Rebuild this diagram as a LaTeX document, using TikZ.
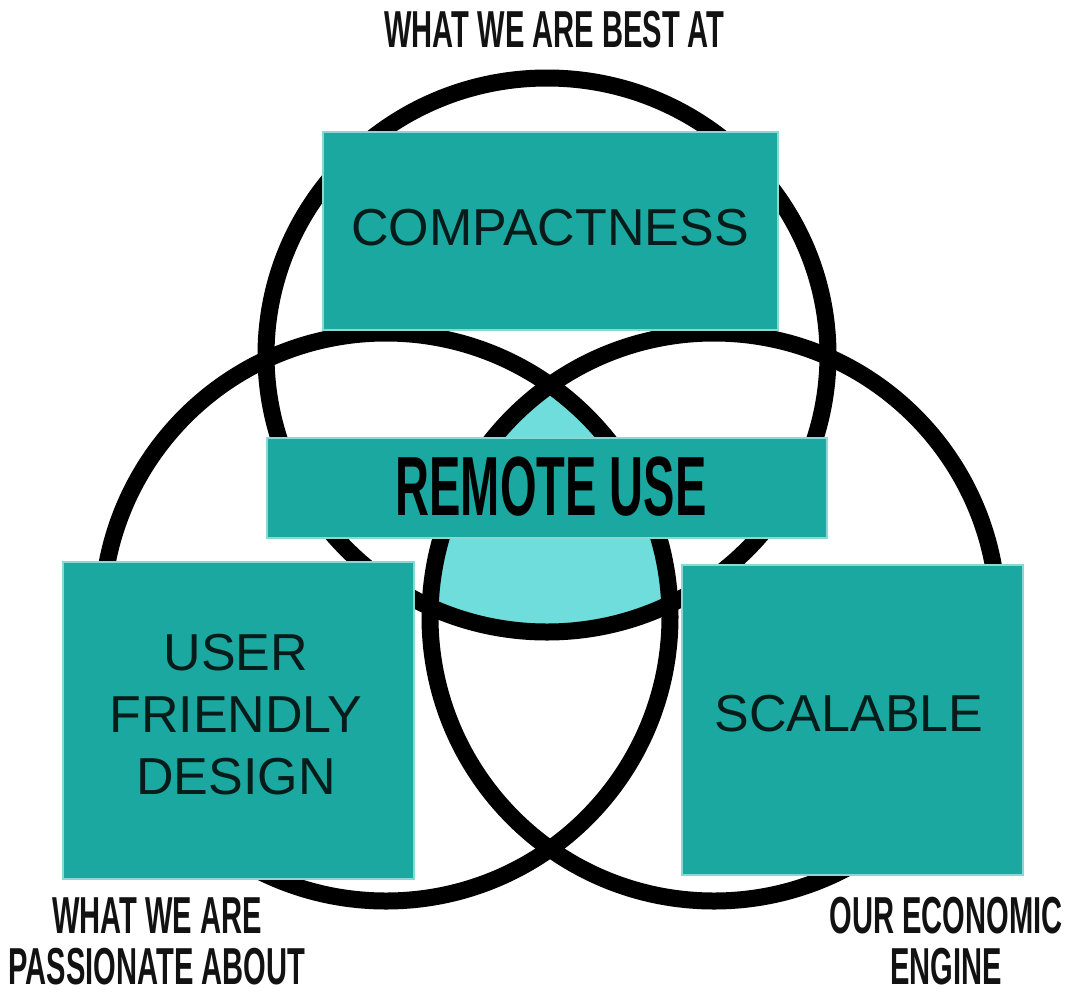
\documentclass[tikz,border=0pt]{standalone}
\usepackage{fontspec}
\setmainfont{Liberation Sans}
\newfontfamily\headfont[FakeStretch=0.56]{Liberation Sans}
\definecolor{boxteal}{HTML}{1BA8A0}
\definecolor{coreteal}{HTML}{6FDDDB}
\definecolor{boxedge}{HTML}{8AD8D4}
\definecolor{ink}{HTML}{061C1B}
\definecolor{headink}{HTML}{121212}

\begin{document}
\begin{tikzpicture}[x=1pt,y=-1pt,
  ring/.style={draw=black,line width=17pt},
  tealbox/.style={fill=boxteal,draw=boxedge,line width=1.5pt,inner sep=0pt},
  boxtext/.style={inner sep=0pt,text=ink,align=center,
    font=\fontsize{52}{62}\selectfont},
  headlabel/.style={inner sep=0pt,text=headink,
    font=\headfont\bfseries\fontsize{52}{51}\selectfont}]
\useasboundingbox (0,0) rectangle (1071,991);
\fill[white] (0,0) rectangle (1071,991);

% ring centres
\coordinate (ctop) at (547,355);
\coordinate (cleft) at (386,617);
\coordinate (cright) at (714,617);

% core shared by all three rings
\begin{scope}
  \clip (cleft) circle [radius=284pt];
  \clip (cright) circle [radius=284pt];
  \fill[coreteal] (ctop) ellipse [x radius=281pt, y radius=277pt];
\end{scope}

% the three rings
\draw[ring] (ctop) ellipse [x radius=281pt, y radius=277pt];
\draw[ring] (cleft) circle [radius=284pt];
\draw[ring] (cright) circle [radius=284pt];

% boxes
\node[tealbox, minimum width=455pt, minimum height=198pt] (compactbox) at (550.5,231) {};
\node[boxtext] (compacttext) at (550,228) {COMPACTNESS};

\node[tealbox, minimum width=560pt, minimum height=100pt] (remotebox) at (547,488) {};
\node[inner sep=0pt, text=black, font=\headfont\bfseries\fontsize{84}{84}\selectfont]
  (remotetext) at (551,487) {REMOTE USE};

\node[tealbox, minimum width=351pt, minimum height=317pt] (friendlybox) at (238.5,720.5) {};
\node[boxtext] (friendlytext) at (236,714.5) {USER\\FRIENDLY\\DESIGN};

\node[tealbox, minimum width=341pt, minimum height=310pt] (scalebox) at (852.5,720) {};
\node[boxtext] (scaletext) at (849,714) {SCALABLE};

% ring captions
\node[headlabel, anchor=base] (besttext) at (554.5,47) {WHAT WE ARE BEST AT};
\node[headlabel, align=center] (passiontext) at (157,941) {WHAT WE ARE\\PASSIONATE ABOUT};
\node[headlabel, align=center] (enginetext) at (946,941) {OUR ECONOMIC\\ENGINE};
\end{tikzpicture}
\end{document}
